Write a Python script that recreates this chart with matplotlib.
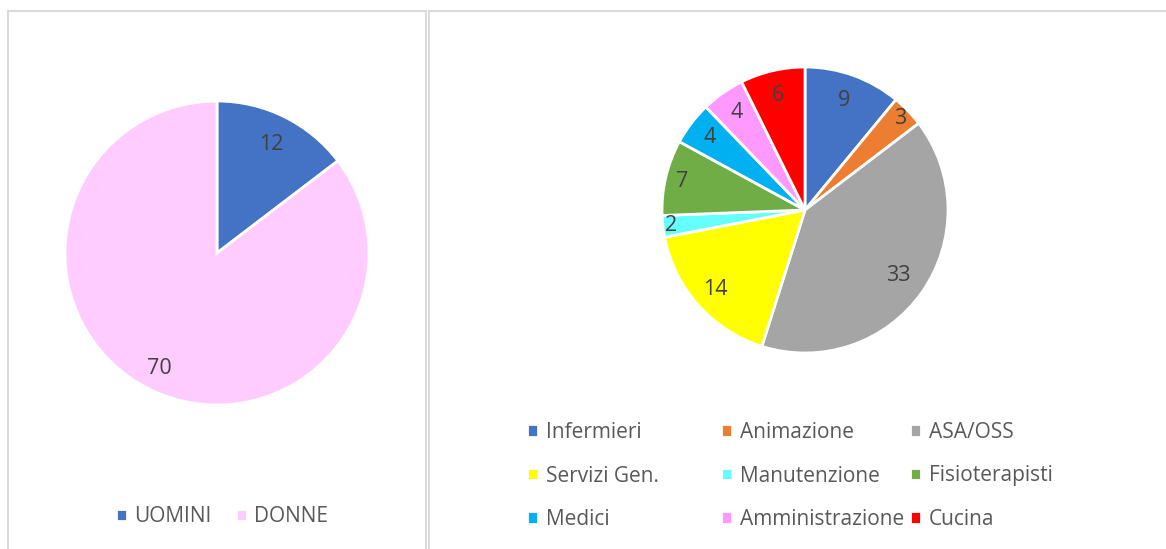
import matplotlib
matplotlib.use('Agg')
import matplotlib.pyplot as plt
from matplotlib.patches import Rectangle

plt.rcParams['font.family'] = ['Open Sans', 'DejaVu Sans']

# ---- data ----
sex_labels = ['UOMINI', 'DONNE']
sex_values = [12, 70]
sex_colors = ['#4472C4', '#FFCCFF']

role_labels = ['Infermieri', 'Animazione', 'ASA/OSS', 'Servizi Gen.', 'Manutenzione',
               'Fisioterapisti', 'Medici', 'Amministrazione', 'Cucina']
role_values = [9, 3, 33, 14, 2, 7, 4, 4, 6]
role_colors = ['#4472C4', '#ED7D31', '#A5A5A5', '#FFFF00', '#66FFFF',
               '#70AD47', '#00B0F0', '#FF99FF', '#FF0000']

W, H = 1166, 549
fig = plt.figure(figsize=(W / 100, H / 100), dpi=100)
fig.patch.set_facecolor('white')

# panel borders
for x0, x1 in [(8, 426), (429, 1170)]:
    fig.add_artist(Rectangle((x0 / W, -0.05), (x1 - x0) / W, 1 - 11 / H + 0.05,
                             transform=fig.transFigure, fill=False,
                             edgecolor='#D9D9D9', linewidth=1.4))


def pie_axes(cx, cy, r):
    return fig.add_axes([(cx - r) / W, (H - cy - r) / H, 2 * r / W, 2 * r / H])


def draw_pie(ax, values, colors, dists):
    total = sum(values)
    wedges, _, autotexts = ax.pie(values, colors=colors, startangle=90, counterclock=False,
                                  autopct=lambda p: f'{p * total / 100:.0f}',
                                  pctdistance=0.8,
                                  wedgeprops=dict(edgecolor='white', linewidth=2.0),
                                  textprops=dict(color='#404040', fontsize=15.5))
    for t, d in zip(autotexts, dists):
        x, y = t.get_position()
        t.set_position((x / 0.8 * d, y / 0.8 * d))
    ax.set_xlim(-1, 1)
    ax.set_ylim(-1, 1)
    ax.set_aspect('equal')
    return wedges


leg_kw = dict(frameon=False, fontsize=15, labelcolor='#595959',
              handlelength=0.55, handleheight=0.55, handletextpad=0.35,
              borderpad=0, borderaxespad=0)

# left pie
ax1 = pie_axes(217, 253, 152)
w1 = draw_pie(ax1, sex_values, sex_colors, [0.8, 0.85])
fig.legend(w1, sex_labels, loc='center', bbox_to_anchor=(222 / W, 1 - 517 / H),
           ncol=2, columnspacing=1.15, **leg_kw)

# right pie
ax2 = pie_axes(805, 210, 143)
w2 = draw_pie(ax2, role_values, role_colors,
              [0.81, 0.92, 0.8, 0.84, 0.94, 0.88, 0.84, 0.83, 0.82])

col_x = [527, 721, 910]
for c in range(3):
    idx = [c, c + 3, c + 6]
    fig.legend([w2[i] for i in idx], [role_labels[i] for i in idx],
               loc='center left', bbox_to_anchor=(col_x[c] / W, 1 - 476 / H),
               labelspacing=1.08, **leg_kw)

fig.savefig('out.png', dpi=100)
